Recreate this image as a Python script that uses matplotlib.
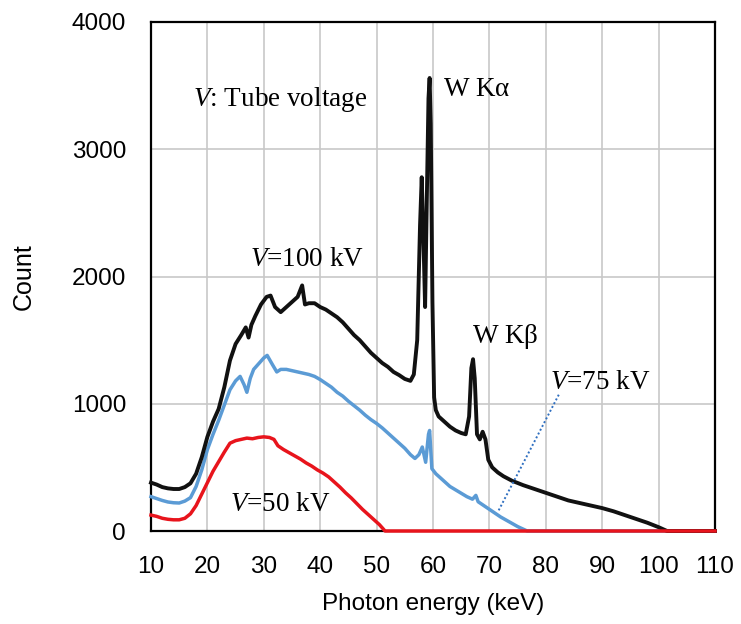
import matplotlib
matplotlib.use("Agg")
import matplotlib.pyplot as plt

plt.rcParams['font.family'] = ['Liberation Sans', 'DejaVu Sans']
plt.rcParams['mathtext.fontset'] = 'custom'
plt.rcParams['mathtext.rm'] = 'Liberation Serif'
plt.rcParams['mathtext.it'] = 'Liberation Serif:italic'

# ---- data ----
e100 = [10, 11, 12, 13, 14, 15, 16, 17, 18, 19, 20, 21, 22, 23, 24, 25, 26, 26.8, 27.3, 27.8,
        28.5, 29.5, 30.5, 31.2, 32, 33, 34, 35, 36, 36.8, 37.3, 38, 39, 40, 41, 42, 43, 44, 45,
        46, 47, 48, 49, 50, 51, 52, 53, 54, 55, 56, 56.6, 57.2, 57.7, 58.0, 58.3, 58.6, 58.9,
        59.2, 59.4, 59.6, 59.9, 60.2, 60.5, 61, 62, 63, 64, 65, 65.8, 66.4, 66.8, 67.1, 67.4,
        67.8, 68.3, 68.8, 69.3, 69.8, 70.5, 71.5, 72.5, 74, 76, 78, 80, 82, 84, 86, 88, 90, 92,
        94, 96, 98, 100, 101.5, 110]
c100 = [380, 365, 345, 335, 330, 330, 345, 375, 450, 580, 740, 860, 960, 1130, 1340, 1470, 1540,
        1600, 1520, 1620, 1690, 1780, 1840, 1850, 1760, 1720, 1760, 1800, 1840, 1930, 1780, 1790,
        1790, 1760, 1740, 1710, 1680, 1640, 1590, 1540, 1500, 1450, 1400, 1360, 1320, 1290, 1250,
        1225, 1195, 1180, 1230, 1500, 2400, 2780, 2300, 1760, 2600, 3400, 3560, 3200, 1800, 1050,
        950, 900, 860, 820, 790, 770, 760, 900, 1280, 1350, 1200, 760, 720, 780, 720, 560, 500,
        460, 430, 395, 360, 330, 300, 270, 240, 220, 200, 180, 155, 125, 95, 65, 30, 0, 0]

e75 = [10, 11, 12, 13, 14, 15, 16, 17, 18, 19, 20, 21, 22, 23, 24, 25, 25.8, 26.5, 27, 27.6,
       28.2, 29, 30, 30.6, 31.5, 32.3, 33, 34, 35, 36, 37, 38, 39, 40, 41, 42, 43, 44, 45, 46,
       47, 48, 49, 50, 51, 52, 53, 54, 55, 56, 56.8, 57.5, 58.1, 58.7, 59.2, 59.4, 59.8, 60.5,
       61.5, 63, 64.5, 66, 67, 67.6, 68, 69, 70, 71, 72, 73, 74, 75, 76.7, 110]
c75 = [270, 255, 240, 228, 222, 220, 235, 262, 350, 480, 640, 760, 870, 990, 1110, 1180, 1215,
       1150, 1090, 1200, 1270, 1310, 1360, 1380, 1310, 1250, 1270, 1270, 1260, 1250, 1240, 1230,
       1215, 1190, 1160, 1130, 1090, 1060, 1020, 985, 950, 910, 875, 845, 810, 770, 730, 690,
       650, 600, 570, 600, 660, 540, 760, 790, 490, 450, 410, 350, 310, 270, 250, 280, 230, 200,
       170, 140, 110, 85, 60, 35, 0, 0]

e50 = [10, 11, 12, 13, 14, 15, 16, 17, 18, 19, 20, 21, 22, 23, 24, 25, 26, 27, 28, 29, 30, 31,
       31.8, 32.5, 33.5, 34.5, 35.5, 36.5, 37.5, 38.5, 39.5, 40.5, 41.5, 42.5, 43.5, 44.5, 45.5,
       46.5, 47.5, 48.5, 49.5, 50.5, 51.5, 110]
c50 = [125, 115, 100, 92, 88, 88, 100, 135, 200, 290, 380, 470, 545, 620, 690, 710, 720, 730,
       725, 735, 740, 735, 720, 670, 640, 615, 590, 565, 535, 510, 480, 455, 425, 385, 345, 300,
       260, 215, 170, 130, 90, 50, 0, 0]

x_ticks = [10, 20, 30, 40, 50, 60, 70, 80, 90, 100, 110]
y_ticks = [0, 1000, 2000, 3000, 4000]

# leader line for the 75 kV label
leader_x = [82.3, 71.5]
leader_y = [1071, 150]

fig = plt.figure(figsize=(7.41, 6.24), dpi=100)
ax = fig.add_axes([151/741, 1 - 531/624, (715-151)/741, (531-22)/624])

ax.plot(e100, c100, color='#111111', lw=2.8, zorder=4, clip_on=False, solid_joinstyle='round')
ax.plot(e75, c75, color='#5b9bd5', lw=2.5, zorder=3, clip_on=False, solid_joinstyle='round')
ax.plot(e50, c50, color='#e8141c', lw=2.5, zorder=5, clip_on=False, solid_joinstyle='round')
ax.plot(leader_x, leader_y, color='#2f6fc0', lw=1.4, ls=(0, (1, 1.2)), zorder=6)

ax.set_xlim(10, 110)
ax.set_ylim(0, 4000)
ax.set_xticks(x_ticks)
ax.set_yticks(y_ticks)
ax.grid(True, color='#c8c8c8', lw=1.2, zorder=0)
ax.set_axisbelow(True)
ax.tick_params(axis='both', length=0, labelsize=17.5)
ax.tick_params(axis='x', pad=18)
ax.tick_params(axis='y', pad=18)
for s in ax.spines.values():
    s.set_linewidth(1.6)
    s.set_color('black')

ax.set_xlabel('Photon energy (keV)', fontsize=17.5, labelpad=11)
ax.set_ylabel('Count', fontsize=18, labelpad=26)

tkw = dict(fontsize=19.5, family=['Liberation Serif'], va='center', ha='left', zorder=7)
ax.text(17.45, 3394, r'$\mathit{V}$: Tube voltage', **tkw)
ax.text(27.55, 2134, r'$\mathit{V}$=100 kV', **tkw)
ax.text(24.0, 205, r'$\mathit{V}$=50 kV', **tkw)
ax.text(61.8, 3472, r'W K$\mathrm{\alpha}$', **tkw)
ax.text(66.9, 1528, r'W K$\mathrm{\beta}$', **tkw)
ax.text(80.7, 1165, r'$\mathit{V}$=75 kV', **tkw)

fig.savefig('out.png', dpi=100)
